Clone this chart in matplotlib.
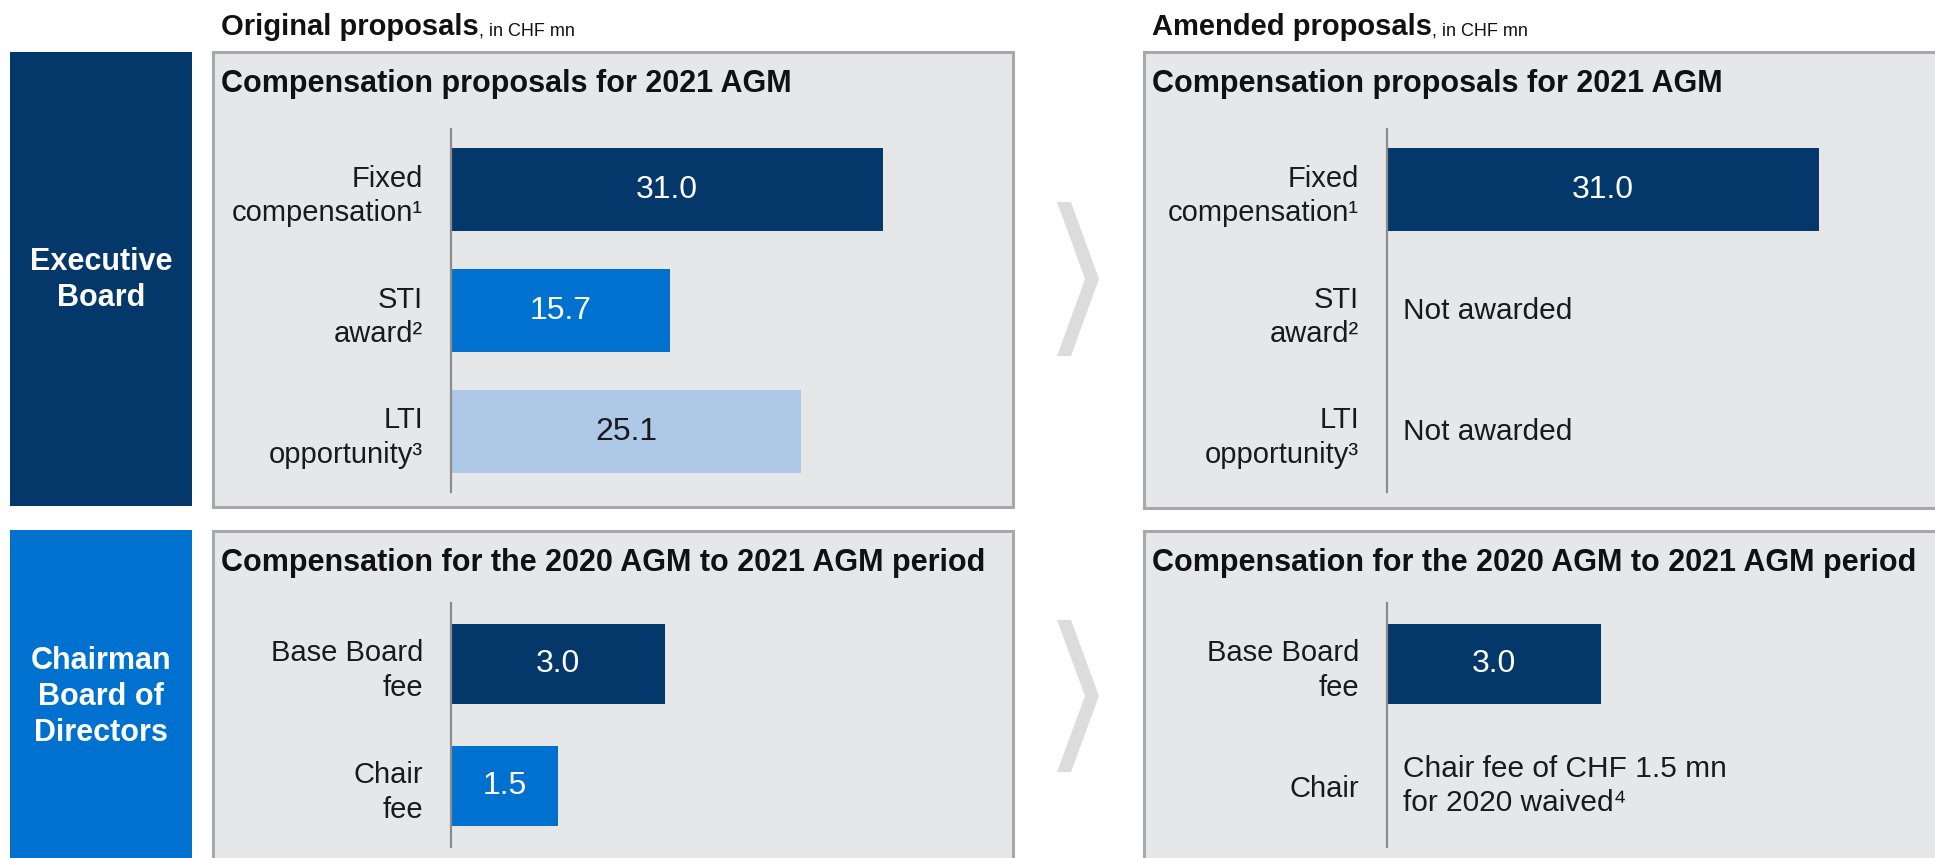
import matplotlib.pyplot as plt
from matplotlib.patches import Rectangle, Polygon

# Figure size in pixels (dpi 100)
W, H = 1935, 858
plt.rcParams['font.family'] = ['Liberation Sans Narrow', 'Liberation Sans', 'DejaVu Sans']

NAVY = '#04386A'
BLUE = '#0071CE'
LIGHT = '#AEC8E8'
PANEL = '#E6E7E9'
BORDER = '#A8A8A8'
CHEVRON = '#DCDCDC'
AXIS = '#8C8C8C'

# Data
exec_categories = ['Fixed\ncompensation¹', 'STI\naward²', 'LTI\nopportunity³']
exec_original = [31.0, 15.7, 25.1]
exec_amended = [31.0, None, None]
exec_amended_notes = [None, 'Not awarded', 'Not awarded']
exec_colors = [NAVY, BLUE, LIGHT]

board_categories = ['Base Board\nfee', 'Chair\nfee']
board_amended_categories = ['Base Board\nfee', 'Chair']
board_original = [3.0, 1.5]
board_amended = [3.0, None]
board_amended_notes = [None, 'Chair fee of CHF 1.5 mn\nfor 2020 waived⁴']
board_colors = [NAVY, BLUE]

fig = plt.figure(figsize=(W / 100, H / 100), dpi=100)

# background layer in pixel coordinates
bg = fig.add_axes([0, 0, 1, 1])
bg.set_xlim(0, W)
bg.set_ylim(H, 0)
bg.axis('off')


def px_axes(x0, y0, x1, y1):
    ax = fig.add_axes([x0 / W, 1 - y1 / H, (x1 - x0) / W, (y1 - y0) / H])
    ax.patch.set_visible(False)
    return ax


def panel(x0, y0, x1, y1, title):
    bg.add_patch(Rectangle((x0, y0), x1 - x0, y1 - y0, facecolor=PANEL,
                           edgecolor=BORDER, lw=2.2))
    bg.text(x0 + 8, y0 + 40, title, fontsize=22, fontweight='bold',
            ha='left', va='baseline', color='#111111')


def chevron(y0, y1):
    ym = (y0 + y1) / 2
    pts = [(1057, y0), (1071, y0), (1099, ym), (1071, y1), (1057, y1), (1085, ym)]
    bg.add_patch(Polygon(pts, closed=True, facecolor=CHEVRON, edgecolor='none'))


def bar_chart(x0, y0, y1, cats, vals, colors, xmax, height, notes=None):
    ax = px_axes(x0, y0, x0 + 548, y1)
    pos = list(range(len(cats)))
    widths = [v if v is not None else 0 for v in vals]
    ax.barh(pos, widths, height=height, color=colors)
    for i, v in enumerate(vals):
        if v is not None:
            tc = '#1a1a1a' if colors[i] == LIGHT else 'white'
            ax.text(v / 2, i, f'{v:.1f}', ha='center', va='center',
                    fontsize=23, color=tc)
        elif notes and notes[i]:
            ax.text(xmax * 0.03, i, notes[i], ha='left', va='center',
                    fontsize=21.5, color='#1a1a1a', linespacing=1.3)
    ax.set_xlim(0, xmax)
    ax.set_ylim(len(cats) - 0.5, -0.5)
    ax.set_yticks(pos)
    ax.set_yticklabels(cats, fontsize=21, color='#1a1a1a', linespacing=1.3)
    ax.tick_params(axis='y', length=0, pad=20)
    ax.set_xticks([])
    for s in ['top', 'right', 'bottom']:
        ax.spines[s].set_visible(False)
    ax.spines['left'].set_color(AXIS)
    ax.spines['left'].set_linewidth(1.6)
    return ax


# side labels
bg.add_patch(Rectangle((10, 52), 182, 454, facecolor=NAVY, edgecolor='none'))
bg.add_patch(Rectangle((10, 530), 182, 340, facecolor=BLUE, edgecolor='none'))
bg.text(101, 280, 'Executive\nBoard', ha='center', va='center', color='white',
        fontsize=22, fontweight='bold', linespacing=1.25)
bg.text(101, 697, 'Chairman\nBoard of\nDirectors', ha='center', va='center',
        color='white', fontsize=22, fontweight='bold', linespacing=1.25)

# headers
fig.canvas.draw()
renderer = fig.canvas.get_renderer()
for x, head in [(221, 'Original proposals'), (1152, 'Amended proposals')]:
    t = bg.text(x, 35, head, fontsize=21, fontweight='bold', ha='left',
                va='baseline', color='#111111')
    bb = t.get_window_extent(renderer=renderer)
    xe = bg.transData.inverted().transform((bb.x1, 0))[0]
    bg.text(xe, 35, ', in CHF mn', fontsize=13, ha='left', va='baseline',
            color='#111111')

# panels
panel(213, 52, 1013, 507, 'Compensation proposals for 2021 AGM')
panel(1144, 52, 1960, 508, 'Compensation proposals for 2021 AGM')
panel(213, 531, 1013, 880, 'Compensation for the 2020 AGM to 2021 AGM period')
panel(1144, 531, 1960, 880, 'Compensation for the 2020 AGM to 2021 AGM period')

chevron(202, 356)
chevron(620, 772)

# bar charts
bar_chart(451, 129, 492, exec_categories, exec_original, exec_colors, 39.3, 0.68)
bar_chart(1387, 129, 492, exec_categories, exec_amended, exec_colors, 39.3, 0.68,
          exec_amended_notes)
bar_chart(451, 603, 847, board_categories, board_original, board_colors, 7.7, 0.66)
bar_chart(1387, 603, 847, board_amended_categories, board_amended, board_colors,
          7.7, 0.66, board_amended_notes)

fig.savefig('out.png', dpi=100)
